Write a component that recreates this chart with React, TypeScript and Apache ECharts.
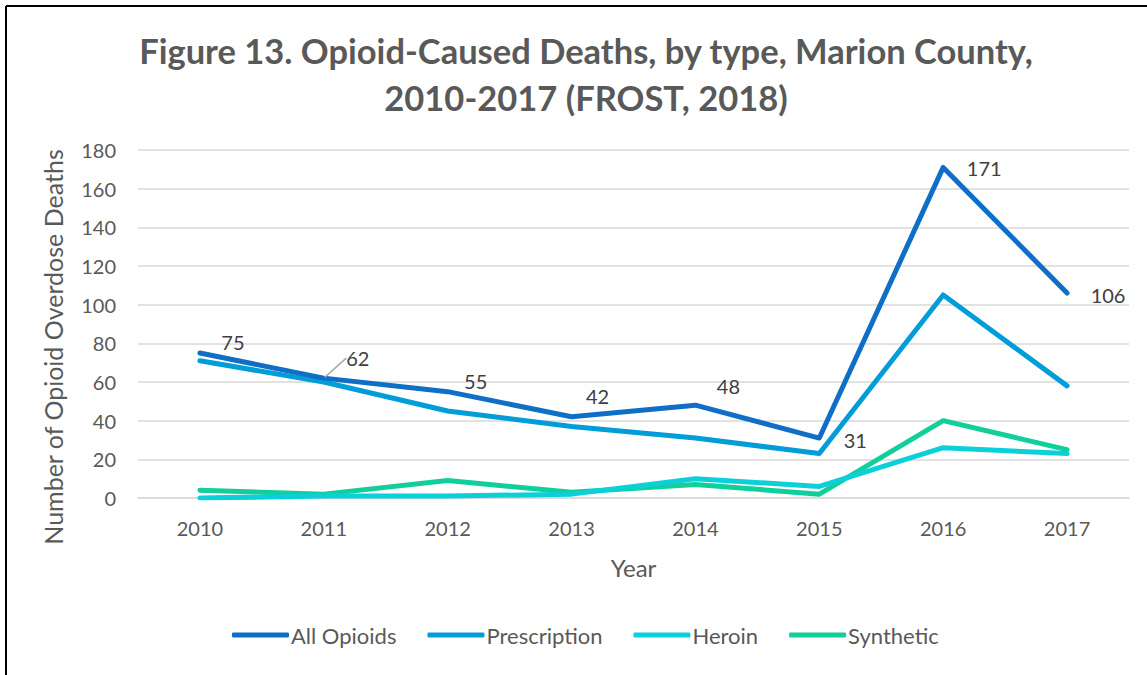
import React, { useEffect, useRef } from "react";
import * as echarts from "echarts";

const years = ["2010", "2011", "2012", "2013", "2014", "2015", "2016", "2017"];
const allOpioids = [75, 62, 55, 42, 48, 31, 171, 106];
const prescription = [71, 60, 45, 37, 31, 23, 105, 58];
const heroin = [0, 1, 1, 2, 10, 6, 26, 23];
const synthetic = [4, 2, 9, 3, 7, 2, 40, 25];
const labelOffsets: [number, number][] = [
  [33, -11], [34, -20], [28, -11], [26, -21], [33, -19], [36, 2], [41, 1], [41, 2],
];
const guidedLabelIndex = 1;

const FONT = "Lato";

export default function App() {
  const ref = useRef<HTMLDivElement>(null);
  useEffect(() => {
    if (!ref.current) return;
    const chart = echarts.init(ref.current, undefined, { renderer: "svg" });
    const lineSeries = (name: string, data: number[], color: string, labels = false) => ({
      name,
      type: "line",
      data: labels
        ? data.map((v, i) => ({
            value: v,
            labelLine: { show: i === guidedLabelIndex },
          }))
        : data,
      symbol: "circle",
      symbolSize: 2,
      showSymbol: true,
      itemStyle: { color },
      lineStyle: { color, width: 5, cap: "round", join: "round" },
      label: labels
        ? {
            show: true,
            position: "inside",
            fontFamily: FONT,
            fontSize: 20,
            color: "#404040",
          }
        : { show: false },
      labelLine: labels
        ? { show: false, lineStyle: { color: "#a6a6a6", width: 1.5 } }
        : undefined,
      labelLayout: labels
        ? (p: any) => {
            const o = labelOffsets[p.dataIndex] || [0, 0];
            return { dx: o[0], dy: o[1] };
          }
        : undefined,
      emphasis: { disabled: true },
      z: labels ? 5 : 2,
    });
    chart.setOption({
      animation: false,
      backgroundColor: "#ffffff",
      title: {
        text: "Figure 13. Opioid-Caused Deaths, by type, Marion County,\n2010-2017 (FROST, 2018)",
        left: 581,
        top: 22,
        textAlign: "center",
        textStyle: {
          fontFamily: FONT,
          fontWeight: "bold",
          fontSize: 34.5,
          lineHeight: 47,
          color: "#595959",
        },
      },
      grid: { left: 138, right: 18, top: 150, bottom: 177 },
      legend: {
        bottom: 24,
        left: 227,
        itemWidth: 57,
        itemHeight: 5,
        itemGap: 31,
        icon: "roundRect",
        textStyle: { fontFamily: FONT, fontSize: 22, color: "#595959", padding: [0, 0, 0, -3] },
        data: ["All Opioids", "Prescription", "Heroin", "Synthetic"],
      },
      xAxis: {
        type: "category",
        data: years,
        boundaryGap: true,
        name: "Year",
        nameLocation: "middle",
        nameGap: 57,
        nameTextStyle: { fontFamily: FONT, fontSize: 24, color: "#595959" },
        axisLine: { show: true, lineStyle: { color: "#d9d9d9", width: 1.5 } },
        axisTick: { show: false },
        axisLabel: { fontFamily: FONT, fontSize: 20, color: "#595959", margin: 20 },
      },
      yAxis: {
        type: "value",
        min: 0,
        max: 180,
        interval: 20,
        name: "Number of Opioid Overdose Deaths",
        nameLocation: "middle",
        nameGap: 73,
        nameTextStyle: { fontFamily: FONT, fontSize: 25, color: "#595959", padding: [0, 0, 0, -46] },
        axisLine: { show: false },
        axisTick: { show: false },
        splitLine: { lineStyle: { color: "#d9d9d9", width: 1.5 } },
        axisLabel: { fontFamily: FONT, fontSize: 20, color: "#595959", margin: 22 },
      },
      graphic: [
        { type: "line", shape: { x1: 6, y1: 6, x2: 1147, y2: 6 }, style: { stroke: "#000", lineWidth: 2 } },
        { type: "line", shape: { x1: 6, y1: 6, x2: 6, y2: 675 }, style: { stroke: "#000", lineWidth: 2 } },
      ],
      series: [
        lineSeries("Synthetic", synthetic, "#10CF9B"),
        lineSeries("Heroin", heroin, "#0BD0D9"),
        lineSeries("Prescription", prescription, "#009DD9"),
        lineSeries("All Opioids", allOpioids, "#0F6FC6", true),
      ],
    });
    return () => chart.dispose();
  }, []);
  return (
    <div
      ref={ref}
      style={{ position: "absolute", left: 0, top: 0, width: 1147, height: 675 }}
    />
  );
}
